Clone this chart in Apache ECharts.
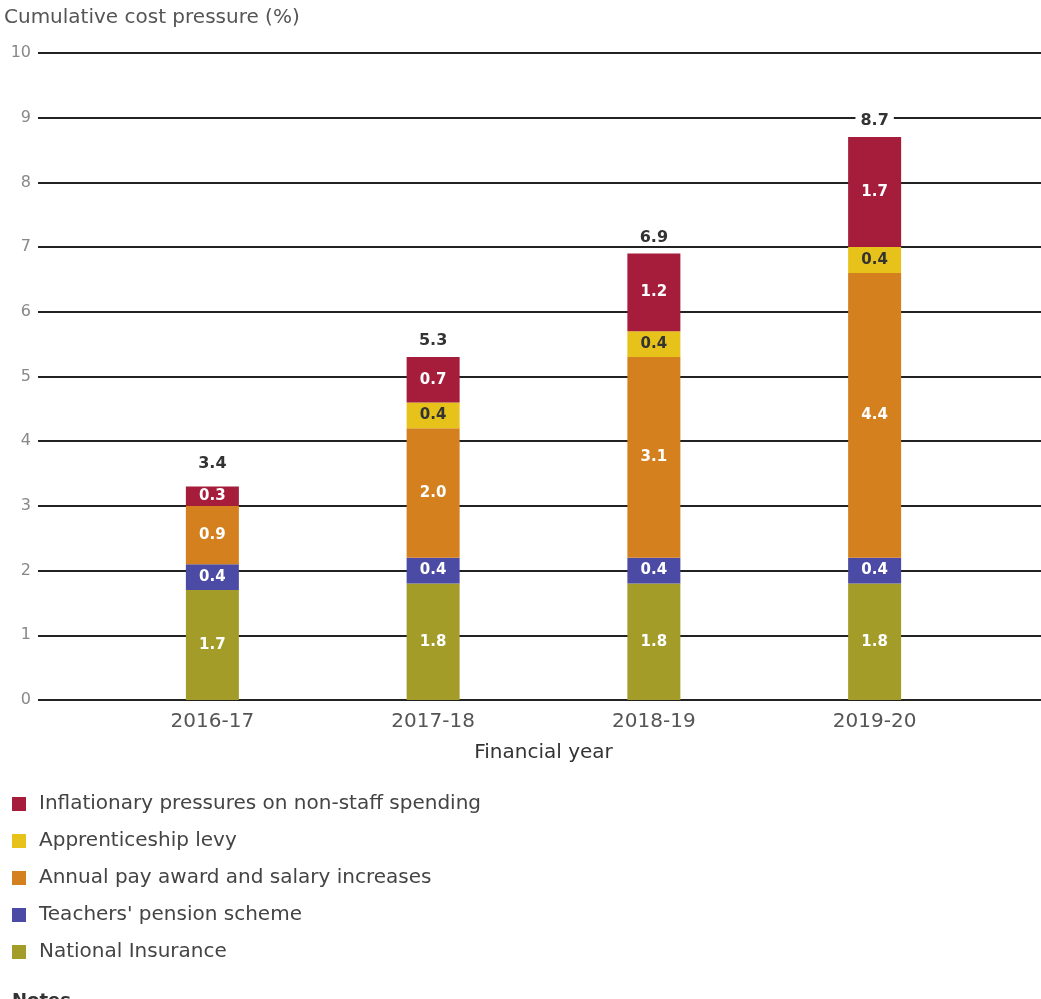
<!DOCTYPE html>
<html>
<head>
<meta charset="utf-8">
<script src="https://cdn.jsdelivr.net/npm/echarts@6/dist/echarts.min.js"></script>
<style>
html,body{margin:0;padding:0;background:#fff;}
#c{width:1041px;height:999px;}
</style>
</head>
<body>
<div id="c"></div>
<script>
const categories = ['2016-17', '2017-18', '2018-19', '2019-20'];
const nationalInsurance = [1.7, 1.8, 1.8, 1.8];
const teachersPension = [0.4, 0.4, 0.4, 0.4];
const annualPay = [0.9, 2.0, 3.1, 4.4];
const apprenticeship = [null, 0.4, 0.4, 0.4];
const inflationary = [0.3, 0.7, 1.2, 1.7];
const totals = [3.4, 5.3, 6.9, 8.7];
const yTicks = [0, 1, 2, 3, 4, 5, 6, 7, 8, 9, 10];

const FONT = '"DejaVu Sans", Verdana, sans-serif';
const chart = echarts.init(document.getElementById('c'), null, {renderer: 'canvas'});

function seg(name, data, color, labelColor) {
  return {
    name: name, type: 'bar', stack: 'total', xAxisIndex: 1, yAxisIndex: 1,
    data: data, barWidth: 53, barGap: '-100%',
    itemStyle: {color: color},
    label: {
      show: true, position: 'inside', color: labelColor, fontFamily: FONT,
      fontSize: 15, fontWeight: 'bold',
      formatter: p => (p.value == null ? '' : p.value.toFixed(1))
    },
    emphasis: {disabled: true}
  };
}

chart.setOption({
  animation: false,
  backgroundColor: '#fff',
  textStyle: {fontFamily: FONT},
  graphic: [
    {type: 'text', left: 4, top: 8, style: {text: 'Cumulative cost pressure (%)', fill: '#555', font: '20px ' + FONT}},
    {type: 'text', left: 12, top: 992, style: {text: 'Notes', fill: '#333', font: 'bold 18px ' + FONT}}
  ],
  legend: {
    orient: 'vertical', left: 12, top: 794, padding: 0,
    itemWidth: 14, itemHeight: 14, itemGap: 17,
    icon: 'rect',
    textStyle: {color: '#444', fontSize: 20, lineHeight: 20, fontFamily: FONT, padding: [0, 0, 0, 8]},
    data: ['Inflationary pressures on non-staff spending', 'Apprenticeship levy',
           'Annual pay award and salary increases', "Teachers' pension scheme", 'National Insurance'],
    selectedMode: false
  },
  grid: [
    {left: 38, right: 0, top: 53, height: 647},
    {left: 102, right: 56, top: 53, height: 647}
  ],
  xAxis: [
    {type: 'value', gridIndex: 0, show: false, min: 0, max: 1},
    {
      type: 'category', gridIndex: 1, data: categories,
      axisLine: {show: false}, axisTick: {show: false},
      axisLabel: {color: '#555', fontSize: 20, margin: 12, fontFamily: FONT},
      name: 'Financial year', nameLocation: 'middle', nameGap: 43,
      nameTextStyle: {color: '#333', fontSize: 20, fontFamily: FONT}
    }
  ],
  yAxis: [
    {
      type: 'value', gridIndex: 0, min: 0, max: 10, interval: 1,
      axisLine: {show: false}, axisTick: {show: false},
      axisLabel: {color: '#888', fontSize: 16, margin: 7, fontFamily: FONT,
                  formatter: v => (yTicks.indexOf(v) >= 0 ? String(v) : '')},
      splitLine: {show: true, lineStyle: {color: '#222', width: 2}}
    },
    {type: 'value', gridIndex: 1, min: 0, max: 10, interval: 1, show: false, splitLine: {show: false}}
  ],
  series: [
    seg('National Insurance', nationalInsurance, '#a39c29', '#fff'),
    seg("Teachers' pension scheme", teachersPension, '#4b4ba6', '#fff'),
    seg('Annual pay award and salary increases', annualPay, '#d5801f', '#fff'),
    seg('Apprenticeship levy', apprenticeship, '#e6c21a', '#333'),
    seg('Inflationary pressures on non-staff spending', inflationary, '#a51d3a', '#fff'),
    {
      name: 'Total', type: 'bar', xAxisIndex: 1, yAxisIndex: 1,
      data: totals, barWidth: 53, barGap: '-100%',
      itemStyle: {color: 'rgba(0,0,0,0)'},
      label: {show: true, position: 'top', distance: 8, color: '#333', fontSize: 16,
              fontWeight: 'bold', fontFamily: FONT, backgroundColor: '#fff', padding: [0, 5],
              formatter: p => p.value.toFixed(1)},
      emphasis: {disabled: true}
    }
  ]
});
</script>
</body>
</html>
